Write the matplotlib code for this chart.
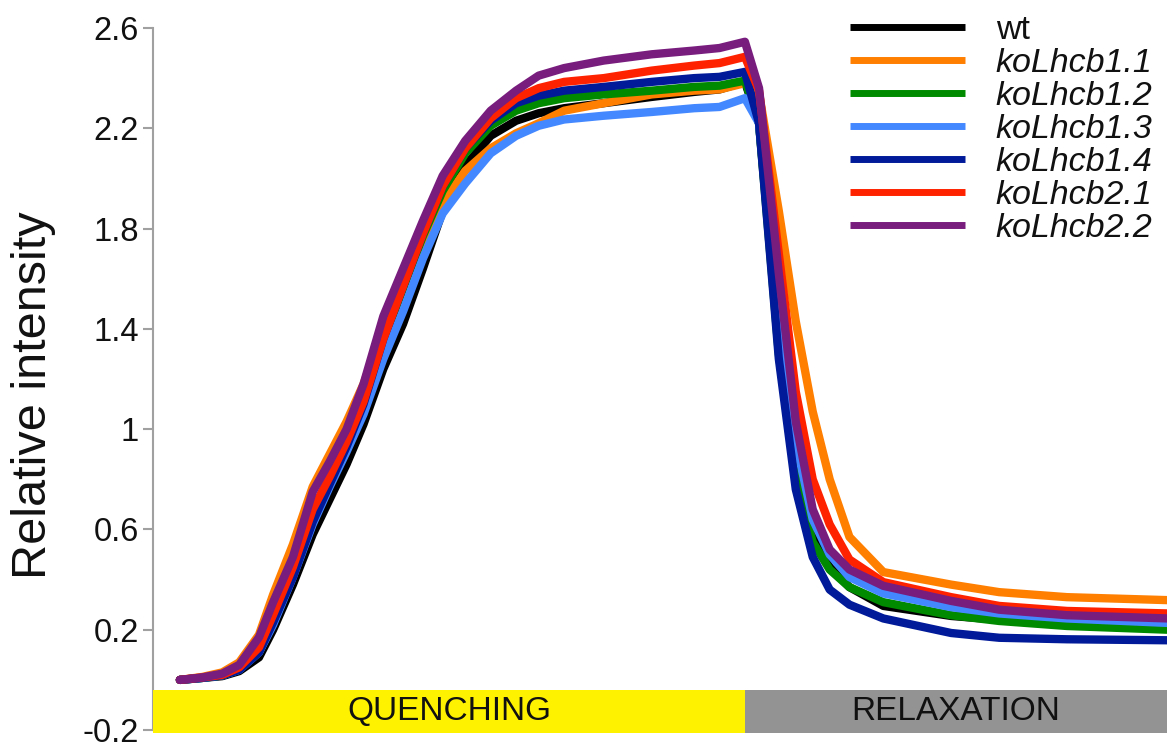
import matplotlib
matplotlib.use("Agg")
import matplotlib.pyplot as plt
from matplotlib.patches import Rectangle

plt.rcParams['font.family'] = ['Liberation Sans', 'DejaVu Sans']

# time (min)
time = [0, 0.4, 0.75, 1.05, 1.4, 1.65, 2.0, 2.35, 2.65, 2.95, 3.25, 3.6, 3.95, 4.3, 4.65,
        5.05, 5.5, 5.95, 6.35, 6.8, 7.5, 8.35, 9.1, 9.55, 10.0, 10.25, 10.6, 10.9, 11.2,
        11.5, 11.85, 12.45, 13.65, 14.5, 15.7, 17.5]

wt = [0.00, 0.008, 0.015, 0.035, 0.09, 0.20, 0.38, 0.58, 0.72, 0.86, 1.02, 1.24, 1.42, 1.64, 1.87,
      2.05, 2.17, 2.23, 2.26, 2.28, 2.30, 2.325, 2.345, 2.355, 2.385, 2.22, 1.35, 0.85, 0.58,
      0.45, 0.37, 0.295, 0.255, 0.24, 0.225, 0.21]
ko11 = [0.00, 0.012, 0.03, 0.07, 0.18, 0.34, 0.54, 0.77, 0.90, 1.03, 1.18, 1.40, 1.58, 1.75, 1.90,
        2.03, 2.12, 2.18, 2.22, 2.27, 2.30, 2.335, 2.35, 2.355, 2.38, 2.34, 1.87, 1.43, 1.07,
        0.80, 0.57, 0.43, 0.38, 0.35, 0.33, 0.318]
ko12 = [0.00, 0.008, 0.018, 0.042, 0.11, 0.23, 0.42, 0.64, 0.78, 0.93, 1.10, 1.35, 1.56, 1.77, 1.95,
        2.10, 2.21, 2.27, 2.30, 2.32, 2.335, 2.35, 2.365, 2.37, 2.39, 2.22, 1.30, 0.80, 0.55,
        0.44, 0.37, 0.31, 0.258, 0.235, 0.215, 0.20]
ko13 = [0.00, 0.008, 0.018, 0.04, 0.11, 0.22, 0.41, 0.62, 0.77, 0.91, 1.06, 1.28, 1.47, 1.68, 1.86,
        1.98, 2.10, 2.17, 2.21, 2.235, 2.25, 2.265, 2.28, 2.285, 2.32, 2.22, 1.42, 0.95, 0.64,
        0.50, 0.41, 0.345, 0.29, 0.265, 0.245, 0.227]
ko14 = [0.00, 0.008, 0.018, 0.04, 0.11, 0.23, 0.41, 0.63, 0.78, 0.93, 1.10, 1.36, 1.57, 1.78, 1.97,
        2.12, 2.23, 2.30, 2.33, 2.35, 2.365, 2.385, 2.40, 2.405, 2.425, 2.22, 1.28, 0.76, 0.49,
        0.36, 0.30, 0.245, 0.187, 0.168, 0.162, 0.158]
ko21 = [0.00, 0.01, 0.02, 0.05, 0.13, 0.26, 0.45, 0.68, 0.81, 0.95, 1.11, 1.36, 1.57, 1.78, 1.97,
        2.12, 2.24, 2.32, 2.36, 2.385, 2.40, 2.43, 2.45, 2.46, 2.485, 2.35, 1.70, 1.15, 0.80,
        0.62, 0.48, 0.39, 0.33, 0.295, 0.275, 0.265]
ko22 = [0.00, 0.01, 0.025, 0.06, 0.17, 0.31, 0.49, 0.75, 0.87, 1.00, 1.18, 1.45, 1.64, 1.83, 2.01,
        2.15, 2.27, 2.35, 2.41, 2.44, 2.47, 2.495, 2.51, 2.52, 2.545, 2.36, 1.62, 1.03, 0.68,
        0.52, 0.44, 0.375, 0.315, 0.28, 0.258, 0.245]

labels = ['wt', 'koLhcb1.1', 'koLhcb1.2', 'koLhcb1.3', 'koLhcb1.4', 'koLhcb2.1', 'koLhcb2.2']
colors = ['#000000', '#ff7f00', '#008a00', '#4488ff', '#001a99', '#ff2200', '#781c7e']
series = [wt, ko11, ko12, ko13, ko14, ko21, ko22]

yticks = [-0.2, 0.2, 0.6, 1.0, 1.4, 1.8, 2.2, 2.6]
yticklabels = ['-0.2', '0.2', '0.6', '1', '1.4', '1.8', '2.2', '2.6']

phases = ['QUENCHING', 'RELAXATION']
phase_bounds = [(-0.478, 10.0), (10.0, 17.47)]
phase_colors = ['#fff200', '#939393']

fig = plt.figure(figsize=(11.67, 7.48), dpi=100)
ax = fig.add_axes([0.131, 0.024, 0.869, 0.9386])

for y, lab, c in zip(series, labels, colors):
    ax.plot(time, y, color=c, lw=6.0, label=lab, solid_capstyle='round',
            solid_joinstyle='round')

ax.set_xlim(-0.478, 17.47)
ax.set_ylim(-0.2, 2.6)
ax.set_yticks(yticks)
ax.set_yticklabels(yticklabels)
ax.set_xticks([])

for (x0, x1), c, name in zip(phase_bounds, phase_colors, phases):
    ax.add_patch(Rectangle((x0, -0.212), x1 - x0, 0.172, facecolor=c, edgecolor='none',
                           clip_on=False, zorder=5))
    ax.text((x0 + x1) / 2, -0.127, name, ha='center', va='center', fontsize=24,
            color='#111111', zorder=6)

for s in ['top', 'right', 'bottom']:
    ax.spines[s].set_visible(False)
ax.spines['left'].set_color('#a0a0a0')
ax.spines['left'].set_linewidth(1.5)
ax.tick_params(axis='y', colors='#a0a0a0', length=7, width=1.5, pad=3,
               labelsize=23.5, labelcolor='#111111')
ax.set_ylabel('Relative intensity', fontsize=35, color='#111111')
ax.yaxis.set_label_coords(-0.096, 0.477)

leg = ax.legend(loc='upper left', bbox_to_anchor=(0.687, 1.018), frameon=False,
                fontsize=24.5, handlelength=3.4, handletextpad=0.9, labelspacing=0.055,
                borderaxespad=0, borderpad=0)
for i, t in enumerate(leg.get_texts()):
    t.set_color('#111111')
    if i > 0:
        t.set_fontstyle('italic')
for h in leg.get_lines():
    h.set_linewidth(5)
    h.set_solid_capstyle('butt')

fig.savefig('out.png', dpi=100)
